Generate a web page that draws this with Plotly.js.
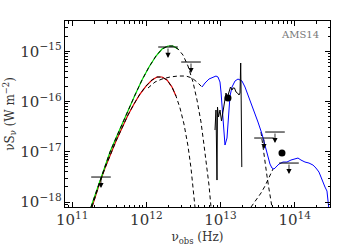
<!DOCTYPE html>
<html>
<head>
<meta charset="utf-8">
<script src="https://cdn.plot.ly/plotly-3.0.1.min.js"></script>
<style>html,body{margin:0;padding:0;background:#fff;}#chart{width:350px;height:250px;}</style>
</head>
<body>
<div id="chart"></div>
<script>
// Cold dust component (red, then dashed)
const coldNu = [1.850e11, 2.095e11, 2.371e11, 2.770e11, 3.235e11, 3.898e11, 4.696e11, 5.656e11, 6.815e11, 8.214e11, 9.894e11, 1.192e12, 1.392e12, 1.626e12, 1.900e12, 2.218e12, 2.511e12, 2.844e12, 3.219e12, 3.646e12, 4.002e12, 4.258e12, 4.531e12];
const coldFlux = [7.977e-19, 1.447e-18, 2.507e-18, 4.761e-18, 8.636e-18, 1.640e-17, 2.974e-17, 5.397e-17, 8.931e-17, 1.412e-16, 2.037e-16, 2.681e-16, 3.076e-16, 3.076e-16, 2.681e-16, 1.946e-16, 1.288e-16, 7.435e-17, 3.573e-17, 1.304e-17, 4.761e-18, 2.185e-18, 7.977e-19];
// Total far-IR component (green, then dashed)
const farNu = [1.793e11, 2.030e11, 2.371e11, 2.770e11, 3.235e11, 3.898e11, 4.696e11, 5.656e11, 7.031e11, 8.738e11, 1.086e12, 1.350e12, 1.626e12, 1.960e12, 2.288e12, 2.673e12, 3.121e12, 3.646e12, 4.258e12, 4.822e12, 5.459e12, 5.993e12, 6.577e12, 6.998e12, 7.447e12];
const farFlux = [7.977e-19, 1.382e-18, 2.748e-18, 5.218e-18, 9.908e-18, 1.882e-17, 3.573e-17, 6.783e-17, 1.349e-16, 2.681e-16, 4.862e-16, 8.048e-16, 1.109e-15, 1.273e-15, 1.273e-15, 1.109e-15, 8.425e-16, 5.090e-16, 2.446e-16, 1.073e-16, 3.915e-17, 1.366e-17, 4.761e-18, 2.185e-18, 7.977e-19];
// Mid-IR template, low-frequency dashed part
const midLowNu = [1.053e12, 1.309e12, 1.626e12, 2.084e12, 2.673e12, 3.425e12, 4.128e12, 4.822e12, 5.632e12];
const midLowFlux = [1.859e-16, 2.446e-16, 2.807e-16, 3.076e-16, 3.220e-16, 3.220e-16, 2.938e-16, 2.446e-16, 1.946e-16];
// Mid-IR template, high-frequency dashed tail
const midTailNu = [3.518e13, 3.743e13, 3.983e13, 4.239e13, 4.510e13, 4.799e13, 4.949e13];
const midTailFlux = [2.477e-17, 1.190e-17, 6.267e-18, 3.300e-18, 1.820e-18, 1.099e-18, 7.977e-19];
// Stellar component, rising dashed part
const starNu = [2.579e13, 3.011e13, 3.518e13, 3.983e13, 4.373e13, 4.799e13, 5.105e13];
const starFlux = [7.977e-19, 1.099e-18, 1.515e-18, 2.087e-18, 2.876e-18, 3.964e-18, 4.548e-18];
// Model (blue)
const modelNu = [5.632e12, 6.180e12, 6.998e12, 7.922e12, 8.697e12, 9.254e12, 9.847e12, 1.016e13, 1.048e13, 1.081e13, 1.115e13, 1.150e13, 1.224e13, 1.262e13, 1.302e13, 1.344e13, 1.430e13, 1.569e13, 1.722e13, 1.950e13, 2.141e13, 2.350e13, 2.660e13, 2.920e13, 3.204e13, 3.629e13, 3.983e13, 4.373e13, 4.651e13, 4.949e13, 5.267e13, 5.603e13, 6.152e13, 6.964e13, 7.887e13, 8.929e13, 1.011e14, 1.110e14, 1.218e14, 1.379e14, 1.562e14, 1.768e14, 1.941e14, 2.130e14, 2.267e14, 2.412e14, 2.567e14, 2.731e14, 2.817e14, 2.906e14];
const modelFlux = [1.946e-16, 2.336e-16, 2.807e-16, 3.076e-16, 3.220e-16, 3.076e-16, 2.446e-16, 1.547e-16, 7.435e-17, 3.413e-17, 1.717e-17, 1.366e-17, 1.882e-17, 3.413e-17, 7.435e-17, 1.288e-16, 1.946e-16, 2.561e-16, 2.807e-16, 2.561e-16, 1.946e-16, 1.349e-16, 8.531e-17, 5.649e-17, 3.915e-17, 2.261e-17, 1.366e-17, 7.881e-18, 5.718e-18, 4.761e-18, 4.548e-18, 4.984e-18, 5.718e-18, 6.267e-18, 6.267e-18, 6.869e-18, 7.191e-18, 7.528e-18, 6.869e-18, 6.267e-18, 5.986e-18, 5.462e-18, 4.761e-18, 3.964e-18, 3.153e-18, 2.395e-18, 1.994e-18, 1.661e-18, 1.099e-18, 6.953e-19];
// IRS spectrum (black)
const specNu = [8.431e12, 8.697e12, 8.972e12, 9.112e12, 9.400e12, 9.847e12, 1.032e13, 1.081e13, 1.132e13, 1.186e13, 1.243e13, 1.302e13, 1.365e13, 1.430e13, 1.475e13, 1.545e13, 1.619e13, 1.696e13, 1.777e13, 1.833e13, 1.873e13, 1.902e13, 1.938e13];
const specFlux = [2.715e-17, 6.783e-17, 2.748e-18, 7.784e-17, 4.923e-17, 6.783e-17, 4.099e-17, 5.912e-17, 9.350e-17, 1.478e-16, 1.230e-16, 1.547e-16, 1.946e-16, 1.696e-16, 1.859e-16, 1.859e-16, 1.547e-16, 1.478e-16, 1.349e-16, 1.478e-16, 5.841e-16, 1.073e-16, 4.984e-18];
// Photometric detections
const detNu = [1.262e13, 6.752e13];
const detFlux = [1.175e-16, 9.465e-18];
// Upper limits
const limNu = [2.446e11, 1.960e12, 4.002e12, 3.861e13, 5.433e13, 8.393e13];
const limFlux = [3.153e-18, 1.216e-15, 6.114e-16, 1.882e-17, 2.477e-17, 5.986e-18];

const FONT = 'DejaVu Serif';
const colouredUpTo = 2.7e12;
function upTo(xs, ys, lim) {
  const X = [], Y = [];
  xs.forEach((v, i) => { if (v <= lim) { X.push(v); Y.push(ys[i]); } });
  return [X, Y];
}
const [redX, redY] = upTo(coldNu, coldFlux, colouredUpTo);
const [grnX, grnY] = upTo(farNu, farFlux, colouredUpTo);
const dash = {color: '#000', width: 1, dash: '4px,3px'};

const traces = [
  {x: redX, y: redY, mode: 'lines', line: {color: '#e00000', width: 1.2}},
  {x: grnX, y: grnY, mode: 'lines', line: {color: '#00dd00', width: 1.2}},
  {x: coldNu, y: coldFlux, mode: 'lines', line: dash},
  {x: farNu, y: farFlux, mode: 'lines', line: dash},
  {x: midLowNu, y: midLowFlux, mode: 'lines', line: dash},
  {x: midTailNu, y: midTailFlux, mode: 'lines', line: dash},
  {x: starNu, y: starFlux, mode: 'lines', line: dash},
  {x: modelNu, y: modelFlux, mode: 'lines', line: {color: '#0000ff', width: 1}},
  {x: specNu, y: specFlux, mode: 'lines', line: {color: '#000', width: 1}},
  {x: detNu, y: detFlux, mode: 'markers', marker: {color: '#000', size: 7, symbol: 'circle'}},
  {x: limNu, y: limFlux, mode: 'markers', marker: {symbol: 'line-ew-open', size: 14, color: '#000', line: {color: '#000', width: 1}}}
];

const annotations = limNu.map((v, i) => ({
  x: Math.log10(v), y: Math.log10(limFlux[i]) - 0.22,
  ax: Math.log10(v), ay: Math.log10(limFlux[i]),
  xref: 'x', yref: 'y', axref: 'x', ayref: 'y',
  text: '', showarrow: true, arrowhead: 2, arrowsize: 1.3, arrowwidth: 0.8, arrowcolor: '#000', standoff: 0
}));
annotations.push({
  xref: 'paper', yref: 'paper', x: 1, y: 1, xanchor: 'right', yanchor: 'top',
  xshift: -9, yshift: -6, text: 'AMS14', showarrow: false,
  font: {family: FONT, size: 10, color: '#777'}
});

const axisBase = {
  type: 'log', dtick: 1, exponentformat: 'power',
  ticks: 'inside', ticklen: 5, tickwidth: 1, tickcolor: '#000',
  showline: true, mirror: 'allticks', linecolor: '#000', linewidth: 1,
  showgrid: false, zeroline: false,
  tickfont: {family: FONT, size: 12, color: '#333'},
  minor: {ticks: 'inside', ticklen: 2.5, tickcolor: '#000', dtick: 'D1', showgrid: false}
};

const layout = {
  width: 350, height: 250,
  margin: {l: 65, r: 20, t: 21, b: 43},
  paper_bgcolor: '#fff', plot_bgcolor: '#fff',
  showlegend: false, hovermode: false,
  xaxis: Object.assign({}, axisBase, {
    range: [10.903, 14.477],
    title: {text: 'ν<sub>obs</sub> (Hz)', font: {family: FONT, size: 12, color: '#333'}, standoff: 4}
  }),
  yaxis: Object.assign({}, axisBase, {
    range: [-18.097, -14.398],
    title: {text: 'νS<sub>ν</sub> (W m<sup>−2</sup>)', font: {family: FONT, size: 12, color: '#333'}, standoff: 3}
  }),
  annotations: annotations
};

Plotly.newPlot('chart', traces, layout, {staticPlot: true, displayModeBar: false});
</script>
</body>
</html>
